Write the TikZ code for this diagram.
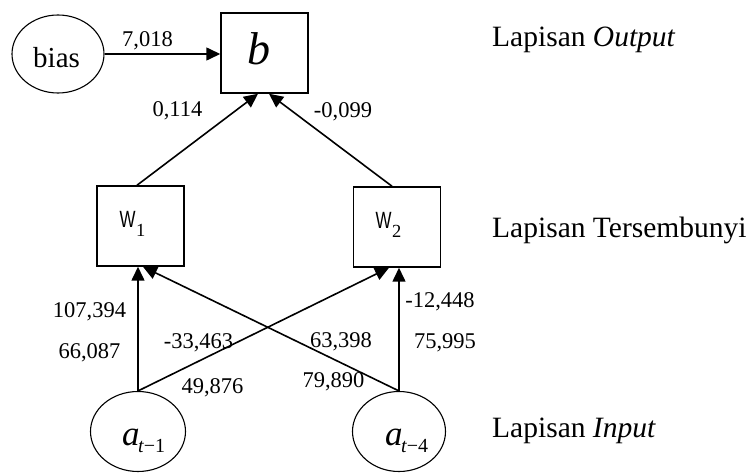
\documentclass[tikz,border=0pt]{standalone}
\usepackage{fontspec}
\setmainfont{Liberation Serif}
\newfontfamily\wfont{Liberation Sans}
\usetikzlibrary{arrows.meta,shapes.geometric}
\begin{document}
\begin{tikzpicture}[x=1pt,y=-1pt,
  wt/.style={font=\fontsize{22.5}{26}\selectfont, inner sep=0pt, anchor=base},
  layer/.style={font=\fontsize{29.5}{34}\selectfont, inner sep=0pt, anchor=base west},
  txt/.style={inner sep=0pt, anchor=base west},
  unit/.style={draw, line width=1.5pt, minimum width=87pt, minimum height=80pt, inner sep=0pt},
  inp/.style={draw, ellipse, line width=1.1pt, inner sep=0pt},
  conn/.style={line width=1.6pt, -{Triangle[length=14pt,width=13pt]}},
]
\useasboundingbox (0,0) rectangle (750,473);

% nodes
\node[inp, minimum width=92pt, minimum height=78pt] (bias) at (58,54) {};
\node[unit] (b) at (264.5,53) {};
\node[unit] (W1) at (140.5,226) {};
\node[unit] (W2) at (397,227) {};
\node[inp, minimum width=95pt, minimum height=80pt] (a1) at (138,431.5) {};
\node[inp, minimum width=93pt, minimum height=80pt] (a4) at (399,431.5) {};

% node texts
\node[txt, font=\fontsize{29}{32}\selectfont] (biastxt) at (33,68) {bias};
\node[txt, font=\fontsize{46}{50}\selectfont\itshape] (btxt) at (247,65) {b};
\node[txt] (w1txt) at (119.5,228) {{\wfont\fontsize{23.5}{26}\selectfont\scalebox{0.72}[1]{W}}\kern0.5pt\raisebox{-9pt}{\fontsize{18.5}{20}\selectfont 1}};
\node[txt] (w2txt) at (375.5,229) {{\wfont\fontsize{23.5}{26}\selectfont\scalebox{0.72}[1]{W}}\kern0.5pt\raisebox{-9pt}{\fontsize{18.5}{20}\selectfont 2}};
\node[txt] (a1txt) at (122,445) {{\fontsize{35}{38}\selectfont\itshape a}\kern-1.5pt\raisebox{-7.5pt}{\fontsize{20}{22}\selectfont\itshape t\upshape −1}};
\node[txt] (a4txt) at (385,445) {{\fontsize{35}{38}\selectfont\itshape a}\kern-1.5pt\raisebox{-7.5pt}{\fontsize{20}{22}\selectfont\itshape t\upshape −4}};

% connectors
\draw[conn] (bias.east) -- (b.west |- bias.east);
\draw[conn] ([xshift=-3.5pt]W1.north) -- ([xshift=-6.5pt]b.south);
\draw[conn] ([xshift=-5pt]W2.north) -- ([xshift=4.5pt]b.south);
\draw[conn] (a1.north) -- (a1.north |- W1.south);
\draw[conn] (a1.north) -- ([xshift=-8pt]W2.south);
\draw[conn] (a4.north) -- ([xshift=2.5pt]W1.south);
\draw[conn] (a4.north) -- (a4.north |- W2.south);

% weights
\node[wt] (l7018) at (147.5,47) {7,018};
\node[wt] (l0114) at (177.5,117) {0,114};
\node[wt] (l0099) at (343,118) {-0,099};
\node[wt] (l107) at (89.5,317) {107,394};
\node[wt] (l66) at (89.5,358) {66,087};
\node[wt] (l33) at (198.5,348) {-33,463};
\node[wt] (l49) at (212.5,393) {49,876};
\node[wt] (l63) at (341,347) {63,398};
\node[wt] (l79) at (333.5,387) {79,890};
\node[wt] (l12) at (440,308) {-12,448};
\node[wt] (l75) at (445,348) {75,995};

% layer names
\node[layer] (lout) at (492,47) {Lapisan \textit{Output}};
\node[layer] (lhid) at (492,238) {Lapisan Tersembunyi};
\node[layer] (lin) at (492,437) {Lapisan \textit{Input}};
\end{tikzpicture}
\end{document}
